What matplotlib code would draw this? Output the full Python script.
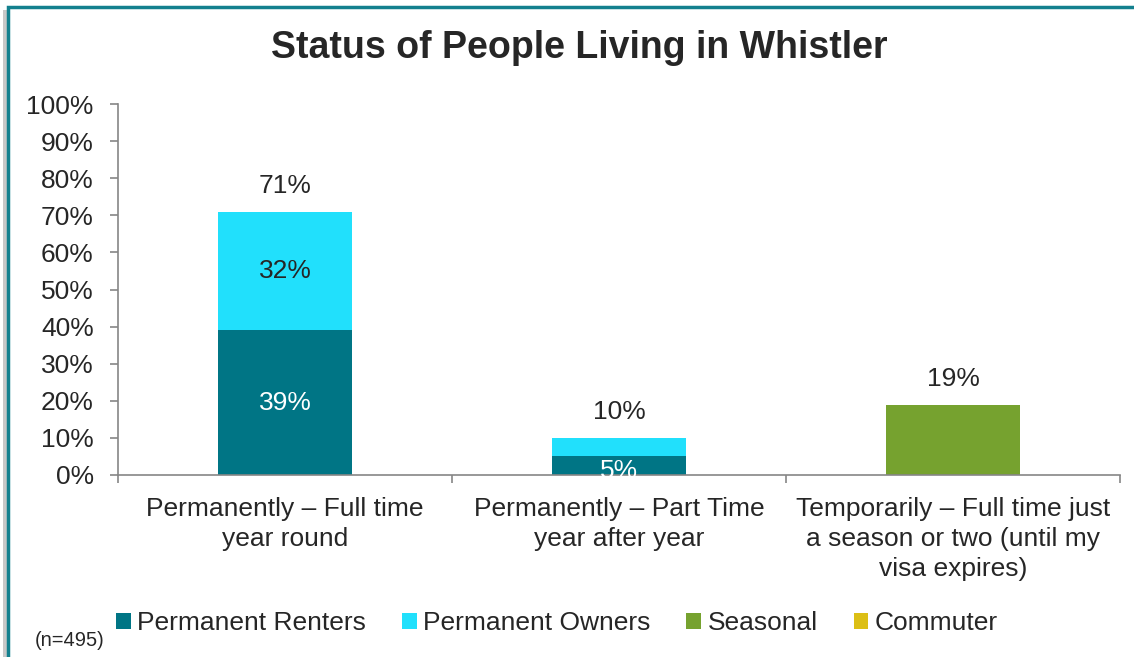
import matplotlib
matplotlib.use("Agg")
import matplotlib.pyplot as plt
from matplotlib.patches import Rectangle
import numpy as np

plt.rcParams['font.family'] = ['Liberation Sans', 'DejaVu Sans']

categories = ["Permanently \u2013 Full time\nyear round",
              "Permanently \u2013 Part Time\nyear after year",
              "Temporarily \u2013 Full time just\na season or two (until my\nvisa expires)"]
renters = [39, 5, 0]
owners = [32, 5, 0]
seasonal = [0, 0, 19]
commuter = [0, 0, 0]
renter_labels = ["39%", "5%", ""]
owner_labels = ["32%", "", ""]
total_labels = ["71%", "10%", "19%"]
yticks = list(range(0, 101, 10))

c_rent = "#007585"
c_own = "#21e0fc"
c_seas = "#76a22f"
c_comm = "#dcbf15"
txt = "#262626"
FS = 19

W, H = 1134, 657
fig = plt.figure(figsize=(W/100, H/100), dpi=100)

# frame with shadow
fig.patches.append(Rectangle((3/W, -0.1), 1.2, (H-10)/H + 0.1, transform=fig.transFigure,
                             facecolor="#c8c8c8", edgecolor="none", zorder=0))
fig.patches.append(Rectangle((8/W, -0.1), 1.2, (H-7)/H + 0.1, transform=fig.transFigure,
                             facecolor="white", edgecolor="#13808e", linewidth=2.5, zorder=1))

ax = fig.add_axes([118/W, 1-475/H, (1120-118)/W, (475-104)/H])
ax.set_zorder(2)
ax.patch.set_alpha(0)
x = np.arange(len(categories))
w = 0.4
r = np.array(renters); o = np.array(owners); s = np.array(seasonal); cm = np.array(commuter)
ax.bar(x, r, w, color=c_rent, label="Permanent Renters")
ax.bar(x, o, w, bottom=r, color=c_own, label="Permanent Owners")
ax.bar(x, s, w, bottom=r+o, color=c_seas, label="Seasonal")
ax.bar(x, cm, w, bottom=r+o+s, color=c_comm, label="Commuter")

for i in range(len(x)):
    if renter_labels[i]:
        ax.text(x[i], r[i]/2 - (1.5 if r[i] < 8 else 0), renter_labels[i], ha="center", va="center",
                color="white", fontsize=FS)
    if owner_labels[i]:
        ax.text(x[i], r[i] + o[i]/2, owner_labels[i], ha="center", va="center", color=txt, fontsize=FS)
    tot = r[i] + o[i] + s[i] + cm[i]
    ax.text(x[i], tot + 7, total_labels[i], ha="center", va="center", color=txt, fontsize=FS)

ax.set_xlim(-0.5, 2.5)
ax.set_ylim(0, 100)
ax.set_yticks(yticks)
ax.set_yticklabels([f"{v}%" for v in yticks], fontsize=FS, color=txt)
ax.set_xticks([-0.5, 0.5, 1.5, 2.5])
ax.set_xticklabels([])
ax.set_xticks(x, minor=True)
ax.set_xticklabels(categories, minor=True, fontsize=FS, color=txt, linespacing=1.31)
ax.tick_params(axis="x", which="minor", length=0, pad=16)
ax.tick_params(axis="x", which="major", length=6, color="#868686", width=1.2)
ax.tick_params(axis="y", length=5.5, color="#868686", width=1.2, pad=12)
for sp in ["top", "right"]:
    ax.spines[sp].set_visible(False)
for sp in ["left", "bottom"]:
    ax.spines[sp].set_color("#868686")
    ax.spines[sp].set_linewidth(1.2)

fig.text(579/W, 1-48/H, "Status of People Living in Whistler", fontsize=27, fontweight="bold",
         color=txt, ha="center", va="center")

handles, labels = ax.get_legend_handles_labels()
leg = fig.legend(handles, labels, loc="center", bbox_to_anchor=(557/W, 1-623/H), ncol=4,
                 frameon=False, fontsize=FS, handlelength=0.55, handleheight=0.55,
                 handletextpad=0.25, columnspacing=1.36, labelcolor=txt)
fig.text(35/W, 1-640/H, "(n=495)", fontsize=14.5, color=txt, ha="left", va="center")

fig.savefig("out.png", dpi=100)
